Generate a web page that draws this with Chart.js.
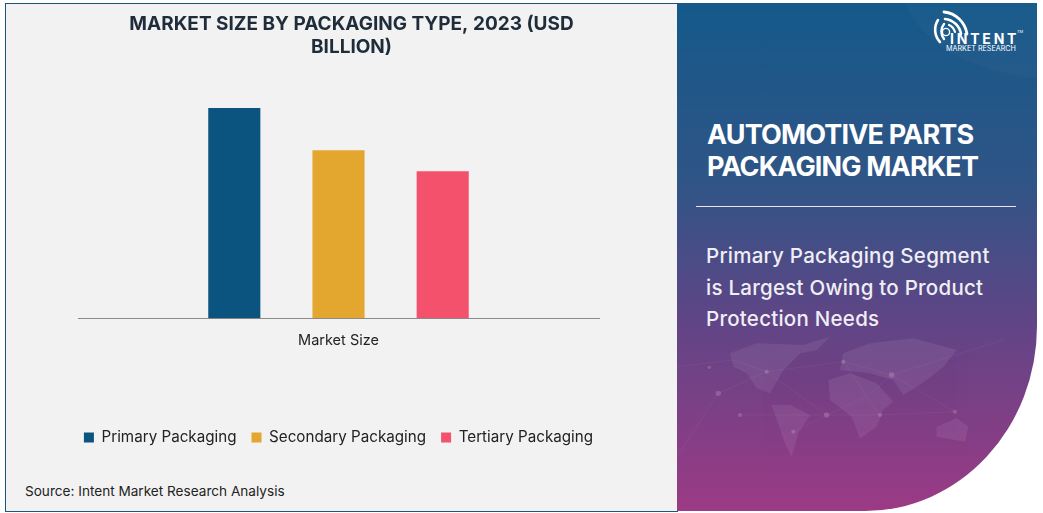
<!DOCTYPE html>
<html><head><meta charset="utf-8">
<script src="https://cdn.jsdelivr.net/npm/chart.js@4"></script>
<style>
html,body{margin:0;padding:0;background:#fff;overflow:hidden}
#stage{position:relative;width:1043px;height:513px;font-family:Inter,sans-serif}
#card{position:absolute;left:5px;top:3px;width:672px;height:507px;background:#f2f2f3;border:1px solid #1d5578;border-right:0;box-sizing:content-box}
#panel{position:absolute;left:677px;top:3px;width:360px;height:508px;border-bottom-right-radius:172px 185px;overflow:hidden;background:linear-gradient(180deg,#14598a 0%,#2f5586 35%,#5f4586 62%,#9c3a85 100%)}
#panel svg{position:absolute;left:0;top:0}
canvas{position:absolute;left:0;top:0}
.t{position:absolute;color:#fff;white-space:nowrap}
#h{left:707px;top:119px;font-size:27px;line-height:32px;font-weight:700;letter-spacing:-.85px}
#rule{position:absolute;left:696px;top:206px;width:320px;height:1px;background:#e8e4ee}
#sub{left:706px;top:240px;font-size:20.5px;line-height:31.5px;font-weight:500;letter-spacing:.25px;color:#f0eef5}
#src{position:absolute;left:25px;top:483px;font-size:13.6px;color:#222}
#logo1{left:950px;top:31px;font-size:14px;font-weight:700;letter-spacing:2.8px;line-height:15px}
#logo2{left:946px;top:45px;font-size:7.2px;line-height:8px}
#tm{left:1017px;top:29px;font-size:4px}
</style></head><body>
<div id="stage">
<div id="card"></div>
<div id="panel">
<svg width="360" height="508" viewBox="0 0 360 508">
<path d="M228 0 C245 40 290 68 360 75 L360 0Z" fill="#fff" opacity=".025"/>
<g transform="translate(-7,327) scale(.3333)">
<g fill="#fff" opacity=".07">
<path d="M180 70 L260 40 L400 45 L480 20 L440 60 L390 70 L340 120 L300 190 L260 175 L230 130 L190 110Z"/>
<path d="M305 225 L360 225 L420 255 L385 310 L365 380 L345 340Z"/>
<path d="M475 150 L540 130 L620 160 L670 215 L640 240 L620 290 L570 325 L545 260 L480 210Z"/>
<path d="M520 70 L600 40 L730 25 L860 60 L820 110 L770 150 L740 170 L700 195 L670 150 L600 130 L510 120Z"/>
<path d="M800 290 L860 265 L895 290 L885 335 L800 320Z"/>
</g>
<g stroke="#fff" stroke-width="1.6" opacity=".09" fill="none"><path d="M20 110 L190 90 L290 125 L520 95 L665 135 L1000 30 M145 190 L290 125 L470 255 L630 255 L855 245 M210 255 L470 255 L590 200 L665 135 L855 245 M145 190 L20 380 M370 305 L470 255 M520 95 L590 200 L630 255"/></g>
<g fill="#fff" opacity=".16"><circle cx="118" cy="112" r="5"/><circle cx="145" cy="190" r="8"/><circle cx="210" cy="255" r="6"/><circle cx="290" cy="125" r="6"/><circle cx="470" cy="255" r="8"/><circle cx="520" cy="95" r="6"/><circle cx="665" cy="135" r="8"/><circle cx="630" cy="255" r="6"/><circle cx="855" cy="245" r="6"/><circle cx="370" cy="305" r="6"/></g>
</g>
</svg>
</div>
<svg style="position:absolute;left:925px;top:4px" width="60" height="46" viewBox="0 0 60 46" fill="none" stroke="#fff" stroke-linecap="round">
<path d="M15 38 A18 18 0 0 1 13 16" stroke-width="2.6"/><path d="M19 35 A12 12 0 0 1 19 20" stroke-width="2.4"/>
<path d="M19 8 A26 26 0 0 1 42 30" stroke-width="2.8"/><path d="M20 15 A18 18 0 0 1 36 30" stroke-width="2.6"/><path d="M24 21 A11 11 0 0 1 30 28" stroke-width="2.2"/>
<circle cx="21" cy="28" r="3.6" stroke-width="1.4"/></svg>
<div class="t" id="logo1">INTENT</div><div class="t" id="tm">TM</div><div class="t" id="logo2">MARKET RESEARCH</div>
<div class="t" id="h">AUTOMOTIVE PARTS<br>PACKAGING MARKET</div>
<div id="rule"></div>
<div class="t" id="sub">Primary Packaging Segment<br>is Largest Owing to Product<br>Protection Needs</div>
<div id="src">Source: Intent Market Research Analysis</div>
<canvas id="c" width="1043" height="513"></canvas>
</div>
<script>
const categories=["Market Size"];
const seriesNames=["Primary Packaging","Secondary Packaging","Tertiary Packaging"];
const seriesValues=[[5.0],[4.0],[3.5]];
const seriesColors=["#0b5480","#e3a62f","#f4516c"];
const titleLines=["MARKET SIZE BY PACKAGING TYPE, 2023 (USD","BILLION)"];
const shiftTitle={id:"shiftTitle",afterLayout(ch){ch.titleBlock.left+=13;ch.titleBlock.right+=13;}};
const hiddenAxis=(pos,w)=>({display:true,position:pos,min:0,max:5,ticks:{display:false},grid:{display:false,drawTicks:false},border:{display:false},afterFit(s){s.width=w;}});
new Chart(document.getElementById("c"),{
 type:"bar",
 data:{labels:categories,datasets:seriesNames.map((n,i)=>({label:n,data:seriesValues[i],backgroundColor:seriesColors[i],barPercentage:.5,categoryPercentage:.6}))},
 plugins:[shiftTitle],
 options:{responsive:false,animation:false,
  layout:{padding:{left:38,right:404,top:13,bottom:58}},
  scales:{
   x:{grid:{display:false,drawTicks:false},border:{display:true,color:"#8a8a8a",width:1},
      ticks:{color:"#222",font:{family:"Inter",size:14.5},padding:14},
      afterFit(s){s.height=96.5;}},
   y:hiddenAxis("left",40),
   y2:hiddenAxis("right",40)
  },
  plugins:{
   title:{display:true,text:titleLines,color:"#1f2c3a",font:{family:"Inter",size:19,weight:"700",lineHeight:1.2},padding:{top:0,bottom:49.5}},
   legend:{position:"bottom",labels:{color:"#222",font:{family:"Inter",size:15.2},boxWidth:10,boxHeight:10,padding:15}},
   tooltip:{enabled:false}
  }
 }
});
</script>
</body></html>
